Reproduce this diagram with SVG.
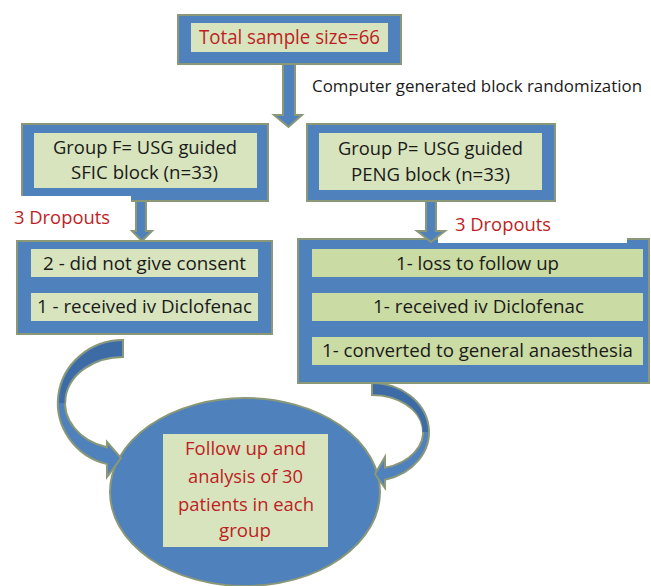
<svg xmlns="http://www.w3.org/2000/svg" width="651" height="586" viewBox="0 0 651 586">
<style>
.box{fill:#4f81bd;stroke:#8a9878;stroke-width:2}
.in{fill:#d7e4bd;stroke:none}
.inp{fill:#cadba3;stroke:none}
.arr{fill:#4f81bd;stroke:#8a9878;stroke-width:2;stroke-linejoin:miter}
.dark{fill:#3d6ba6;stroke:none}
.t{font-family:"Open Sans","Liberation Sans",sans-serif;fill:#1a1a1a;text-anchor:middle}
.r{font-family:"Open Sans","Liberation Sans",sans-serif;fill:#be1e24;text-anchor:middle}
</style>
<rect width="651" height="586" fill="#ffffff"/>

<g id="node-total">
<rect class="box" x="178" y="15" width="223" height="49"/>
<rect class="in" x="191" y="23" width="197" height="29"/>
<text class="r" x="289.5" y="44" font-size="20.5" textLength="181" lengthAdjust="spacingAndGlyphs">Total sample size=66</text>
</g>

<g id="label-randomization">
<text class="t" x="477" y="92" font-size="17" textLength="330" lengthAdjust="spacingAndGlyphs">Computer generated block randomization</text>
</g>

<g id="node-groupF">
<rect class="box" x="22" y="124" width="246" height="77"/>
<rect class="in" x="34" y="133" width="223" height="55"/>
<text class="t" x="145" y="154" font-size="18.5" textLength="184" lengthAdjust="spacingAndGlyphs">Group F= USG guided</text>
<text class="t" x="144.5" y="179" font-size="18.5" textLength="147" lengthAdjust="spacingAndGlyphs">SFIC block (n=33)</text>
</g>

<g id="node-groupP">
<rect class="box" x="307" y="124" width="248" height="77"/>
<rect class="in" x="319" y="133" width="223" height="57"/>
<text class="t" x="430.5" y="155" font-size="18.5" textLength="185" lengthAdjust="spacingAndGlyphs">Group P= USG guided</text>
<text class="t" x="430.5" y="181" font-size="18.5" textLength="159" lengthAdjust="spacingAndGlyphs">PENG block (n=33)</text>
</g>

<g id="node-dropF">
<rect class="box" x="17" y="241" width="255" height="93"/>
<rect class="in" x="31" y="249" width="227" height="28"/>
<rect class="in" x="31" y="293" width="227" height="28"/>
<text class="t" x="144.5" y="270" font-size="18.5" textLength="203" lengthAdjust="spacingAndGlyphs">2 - did not give consent</text>
<text class="t" x="144.5" y="313" font-size="18.5" textLength="215" lengthAdjust="spacingAndGlyphs">1 - received iv Diclofenac</text>
</g>

<g id="node-dropP">
<rect class="box" x="298" y="239" width="351" height="144"/>
<rect class="inp" x="312" y="249" width="331" height="28"/>
<rect class="inp" x="312" y="293" width="331" height="28"/>
<rect class="inp" x="312" y="337" width="331" height="28"/>
<text class="t" x="477.5" y="270" font-size="18.5" textLength="163" lengthAdjust="spacingAndGlyphs">1- loss to follow up</text>
<text class="t" x="478.5" y="313" font-size="18.5" textLength="211" lengthAdjust="spacingAndGlyphs">1- received iv Diclofenac</text>
<text class="t" x="477.5" y="357" font-size="18.5" textLength="311" lengthAdjust="spacingAndGlyphs">1- converted to general anaesthesia</text>
</g>

<g id="label-dropoutsF">
<rect x="0" y="196" width="131" height="44" fill="#ffffff"/>
<text class="r" x="62" y="224" font-size="18" textLength="96" lengthAdjust="spacingAndGlyphs">3 Dropouts</text>
</g>

<g id="label-dropoutsP">
<rect x="438" y="203" width="189" height="40" fill="#ffffff"/>
<text class="r" x="503" y="231" font-size="18" textLength="96" lengthAdjust="spacingAndGlyphs">3 Dropouts</text>
</g>

<g id="node-followup">
<ellipse class="box" cx="245" cy="492" rx="135" ry="94"/>
<rect class="in" x="163" y="434" width="165" height="113"/>
<text class="r" x="245.5" y="455" font-size="17.5" textLength="121" lengthAdjust="spacingAndGlyphs">Follow up and</text>
<text class="r" x="245.5" y="483" font-size="17.5" textLength="115" lengthAdjust="spacingAndGlyphs">analysis of 30</text>
<text class="r" x="246" y="511" font-size="17.5" textLength="136" lengthAdjust="spacingAndGlyphs">patients in each</text>
<text class="r" x="245" y="537" font-size="17.5" textLength="52" lengthAdjust="spacingAndGlyphs">group</text>
</g>

<g id="connectors">
<polygon class="arr" points="283,64 295,64 295,115 302,115 288.5,127 274,115 283,115"/>
<polygon class="arr" points="136,201 146,201 146,231 152,231 142,241 132,231 136,231"/>
<polygon class="arr" points="426,201 436,201 436,231 445,231 431,242 417,231 426,231"/>
<path class="arr" d="M123,340 A65,63 0 0 0 107,464.1 L107,477 L121,458 L107,442 L107,447.2 A58,46 0 0 1 123,357 Z"/>
<path class="dark" d="M122,341.2 A64,62 0 0 0 59,403 L64.5,403 A57,45 0 0 1 122,356 Z"/>
<path class="arr" d="M372,383 A57,49 0 0 1 385,479.7 L385,488 L375,474 L385,457 L385,467.8 A51,37 0 0 0 372,395 Z"/>
<path class="dark" d="M373,384.2 A56,48 0 0 1 428,432 L422.5,432 A50,36 0 0 0 373,394 Z"/>
</g>
</svg>
